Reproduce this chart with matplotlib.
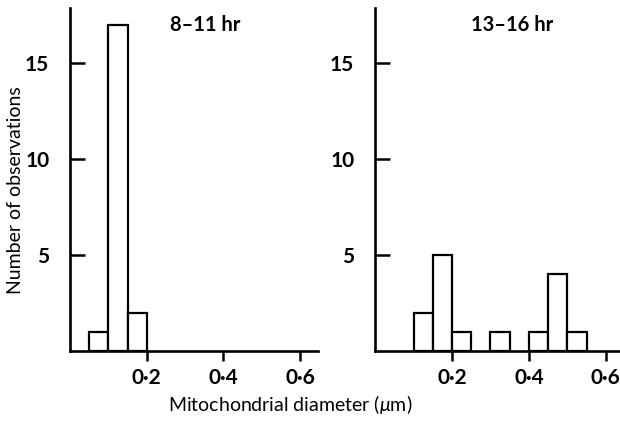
import matplotlib.pyplot as plt

plt.rcParams['font.family'] = ['Lato', 'DejaVu Sans']
plt.rcParams['mathtext.fontset'] = 'custom'
plt.rcParams['mathtext.rm'] = 'Lato'
plt.rcParams['mathtext.it'] = 'Lato:italic'

# histogram data (bin width 0.05 um)
bin_width = 0.05
left_edges = [0.05, 0.10, 0.15]
left_counts = [1, 17, 2]
right_edges = [0.10, 0.15, 0.20, 0.30, 0.40, 0.45, 0.50]
right_counts = [2, 5, 1, 1, 1, 4, 1]

x_ticks = [0.2, 0.4, 0.6]
x_tick_labels = ['0·2', '0·4', '0·6']
y_ticks = [5, 10, 15]

fig = plt.figure(figsize=(6.2, 4.29), dpi=100)
ax1 = fig.add_axes([0.113, 0.182, 0.400, 0.800])
ax2 = fig.add_axes([0.605, 0.182, 0.395, 0.800])

panels = [(ax1, left_edges, left_counts, 0.647),
          (ax2, right_edges, right_counts, 0.637)]

for ax, edges, counts, xmax in panels:
    ax.bar(edges, counts, width=bin_width, align='edge',
           facecolor='white', edgecolor='black', linewidth=1.6)
    ax.set_xlim(0, xmax)
    ax.set_ylim(0, 17.9)
    for s in ['top', 'right']:
        ax.spines[s].set_visible(False)
    for s in ['left', 'bottom']:
        ax.spines[s].set_linewidth(1.9)
    ax.set_xticks(x_ticks)
    ax.set_xticklabels(x_tick_labels, fontsize=15, fontweight='bold')
    ax.set_yticks(y_ticks)
    ax.set_yticklabels([str(v) for v in y_ticks], fontsize=15, fontweight='bold')
    ax.tick_params(axis='x', direction='out', length=7, width=1.8, pad=5)
    ax.tick_params(axis='y', direction='in', length=11, width=1.8, pad=15)

fig.text(0.331, 0.942, '8–11 hr', fontsize=14.5, fontweight='bold', ha='center', va='center')
fig.text(0.826, 0.942, '13–16 hr', fontsize=14.5, fontweight='bold', ha='center', va='center')
fig.text(0.025, 0.557, 'Number of observations', fontsize=14, rotation=90,
         ha='center', va='center')
fig.text(0.468, 0.056, r'Mitochondrial diameter ($\mu$m)', fontsize=14,
         ha='center', va='center')

plt.savefig('out.png', dpi=100)
